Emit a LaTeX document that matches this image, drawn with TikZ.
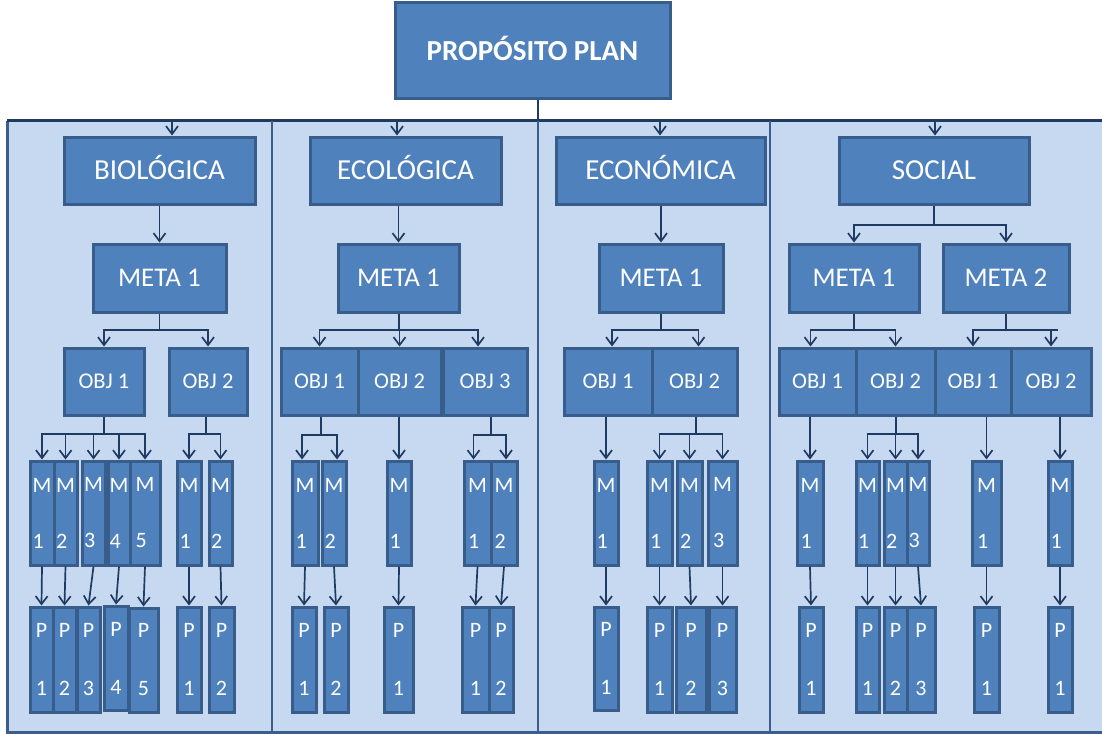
\documentclass[tikz,border=0pt]{standalone}
\usepackage{fontspec}
\setmainfont{Carlito}
\usetikzlibrary{arrows.meta}
\definecolor{boxfill}{HTML}{4F81BD}
\definecolor{boxline}{HTML}{385D8A}
\definecolor{panelfill}{HTML}{C6D9F0}
\definecolor{panelline}{HTML}{3C5E8C}
\definecolor{connc}{HTML}{1F3B61}
\tikzset{
  bx/.style={draw=boxline, fill=boxfill, line width=3pt, text=white, inner sep=0pt, rectangle},
  titlebox/.style={bx, font=\bfseries\fontsize{29}{34}\selectfont, text height=18.7pt, text depth=0pt},
  catbox/.style={bx, font=\fontsize{29}{34}\selectfont, text height=18.7pt, text depth=0pt},
  metabox/.style={bx, font=\fontsize{27}{32}\selectfont, text height=17.4pt, text depth=0pt},
  objbox/.style={bx, font=\fontsize{22.5}{27}\selectfont, text height=14.5pt, text depth=0pt},
  mbox/.style={bx, font=\fontsize{22}{56}\selectfont, align=left},
  pbox/.style={bx, font=\fontsize{22}{58}\selectfont, align=center},
  conn/.style={draw=connc, line width=1.7pt},
  arr/.style={conn, -{Straight Barb[length=8pt,width=12pt]}},
}
\newcommand\B[7]{\node[#1, minimum width={#5-#3}, minimum height={#6-#4}] (#2) at ({(#3+#5)/2},{(#4+#6)/2}) {#7};}
% #1 parent, #2 x of trunk, #3 y of bar, #4 list child/xshift
\newcommand\fan[4]{%
  \coordinate (fj) at (#2,#3);
  \draw[conn] (fj |- #1.south) -- (fj);
  \foreach \c/\d in {#4} {\draw[arr] (fj) -| ([xshift=\d pt]\c.north);}}
\begin{document}
\begin{tikzpicture}[x=1pt,y=-1pt]
\useasboundingbox (0,0) rectangle (1102,733);
% panel
\fill[panelfill] (7,121) rectangle (1106,732);
\draw[panelline, line width=3pt] (1106,732) -- (7,732) -- (7,121);
\draw[connc, line width=3pt] (7,121) -- (1106,121);
\draw[panelline, line width=2.6pt] (272,121) -- (272,732);
\draw[panelline, line width=2.6pt] (538,121) -- (538,732);
\draw[panelline, line width=2.6pt] (770,121) -- (770,732);
% title and categories
\B{titlebox}{pp}{395}{3}{670}{99}{PROPÓSITO PLAN}
\B{catbox}{bio}{64}{137}{255}{204}{BIOLÓGICA}
\B{catbox}{eco}{310}{137}{501}{204}{ECOLÓGICA}
\B{catbox}{ecn}{556}{137}{765}{204}{ECONÓMICA}
\B{catbox}{soc}{839}{137}{1029}{204}{SOCIAL}
% metas
\B{metabox}{m1}{93}{244}{226}{312}{META 1}
\B{metabox}{m2}{338}{244}{459}{312}{META 1}
\B{metabox}{m3}{599}{244}{723}{312}{META 1}
\B{metabox}{m4a}{789}{244}{919}{312}{META 1}
\B{metabox}{m4b}{943}{244}{1069}{312}{META 2}
% objectives
\B{objbox}{o1a}{64}{348}{144}{415}{OBJ 1}
\B{objbox}{o1b}{169}{348}{247}{415}{OBJ 2}
\B{objbox}{o2a}{281}{348}{358}{415}{OBJ 1}
\B{objbox}{o2b}{358}{348}{441}{415}{OBJ 2}
\B{objbox}{o2c}{443}{348}{527}{415}{OBJ 3}
\B{objbox}{o3a}{564}{348}{652}{415}{OBJ 1}
\B{objbox}{o3b}{652}{348}{737}{415}{OBJ 2}
\B{objbox}{o4a}{779}{348}{856}{415}{OBJ 1}
\B{objbox}{o4b}{856}{348}{935}{415}{OBJ 2}
\B{objbox}{o4c}{935}{348}{1011}{415}{OBJ 1}
\B{objbox}{o4d}{1011}{348}{1091}{415}{OBJ 2}
% M boxes
\B{mbox}{ma1}{30}{461}{54}{565}{M\\1}
\B{mbox}{ma2}{54}{461}{77}{565}{M\\2}
\B{mbox}{ma3}{82}{461}{105}{565}{M\\3}
\B{mbox}{ma4}{108}{461}{130}{565}{M\\4}
\B{mbox}{ma5}{130}{461}{160}{565}{M\\5}
\B{mbox}{mb1}{177}{461}{201}{565}{M\\1}
\B{mbox}{mb2}{209}{461}{232}{565}{M\\2}
\B{mbox}{mc1}{292}{461}{318}{565}{M\\1}
\B{mbox}{mc2}{322}{461}{346}{565}{M\\2}
\B{mbox}{md1}{387}{461}{411}{565}{M\\1}
\B{mbox}{me1}{464}{461}{491}{565}{M\\1}
\B{mbox}{me2}{491}{461}{517}{565}{M\\2}
\B{mbox}{mf1}{594}{461}{618}{565}{M\\1}
\B{mbox}{mg1}{647}{461}{672}{565}{M\\1}
\B{mbox}{mg2}{677}{461}{702}{565}{M\\2}
\B{mbox}{mg3}{708}{461}{737}{565}{M\\3}
\B{mbox}{mh1}{797}{461}{823}{565}{M\\1}
\B{mbox}{mi1}{856}{461}{879}{565}{M\\1}
\B{mbox}{mi2}{884}{461}{907}{565}{M\\2}
\B{mbox}{mi3}{907}{461}{929}{565}{M\\3}
\B{mbox}{mj1}{972}{461}{1001}{565}{M\\1}
\B{mbox}{mk1}{1048}{461}{1072}{565}{M\\1}
% P boxes
\B{pbox}{pa1}{30}{607}{53}{712}{P\\1}
\B{pbox}{pa2}{53}{607}{76}{712}{P\\2}
\B{pbox}{pa3}{77}{607}{100}{712}{P\\3}
\B{pbox}{pa4}{104}{606}{128}{710}{P\\4}
\B{pbox}{pa5}{129}{608}{158}{712}{P\\5}
\B{pbox}{pb1}{177}{607}{201}{712}{P\\1}
\B{pbox}{pb2}{209}{607}{234}{712}{P\\2}
\B{pbox}{pc1}{292}{607}{316}{712}{P\\1}
\B{pbox}{pc2}{324}{607}{348}{712}{P\\2}
\B{pbox}{pd1}{384}{607}{413}{712}{P\\1}
\B{pbox}{pe1}{462}{607}{489}{712}{P\\1}
\B{pbox}{pe2}{489}{607}{513}{712}{P\\2}
\B{pbox}{pf1}{594}{607}{618}{710}{P\\1}
\B{pbox}{pg1}{647}{607}{672}{712}{P\\1}
\B{pbox}{pg2}{676}{607}{706}{712}{P\\2}
\B{pbox}{pg3}{709}{607}{736}{712}{P\\3}
\B{pbox}{ph1}{799}{607}{823}{712}{P\\1}
\B{pbox}{pi1}{856}{607}{879}{712}{P\\1}
\B{pbox}{pi2}{884}{607}{907}{712}{P\\2}
\B{pbox}{pi3}{907}{607}{935}{712}{P\\3}
\B{pbox}{pj1}{974}{607}{999}{712}{P\\1}
\B{pbox}{pk1}{1048}{607}{1072}{712}{P\\1}
% title to panel
\coordinate (tj) at (538,121);
\draw[conn] (tj |- pp.south) -- (tj);
\coordinate (t1) at (172,121);
\coordinate (t2) at (397,121);
\coordinate (t3) at (660,121);
\coordinate (t4) at (935,121);
\draw[arr] (t1) -- (t1 |- bio.north);
\draw[arr] (t2) -- (t2 |- eco.north);
\draw[arr] (t3) -- (t3 |- ecn.north);
\draw[arr] (t4) -- (t4 |- soc.north);
% categories to metas
\draw[arr] (m1.north |- bio.south) -- (m1.north);
\draw[arr] (m2.north |- eco.south) -- (m2.north);
\draw[arr] (m3.north |- ecn.south) -- (m3.north);
\fan{soc}{934}{225}{m4a/0, m4b/0}
% metas to objectives
\fan{m1}{159.5}{330}{o1a/0, o1b/0}
\fan{m2}{399}{330}{o2a/0, o2b/0, o2c/-7}
\fan{m3}{661}{330}{o3a/4, o3b/4}
\fan{m4a}{854}{330}{o4a/-7, o4b/0}
\fan{m4b}{1006}{330}{o4c/0, o4d/0}
\coordinate (stub) at (1058,330);
\draw[conn] (m4b.south |- stub) -- (stub);
% objectives to M
\fan{o1a}{104}{434}{ma1/0, ma2/0, ma3/0, ma4/0, ma5/0}
\fan{o1b}{206}{434}{mb1/0, mb2/0}
\fan{o2a}{321}{435}{mc1/-3, mc2/3}
\draw[arr] (md1.north |- o2b.south) -- (md1.north);
\fan{o2c}{491}{435}{me1/-4, me2/2}
\draw[arr] (mf1.north |- o3a.south) -- (mf1.north);
\fan{o3b}{696}{434}{mg1/0, mg2/0, mg3/0}
\draw[arr] (mh1.north |- o4a.south) -- (mh1.north);
\fan{o4b}{896}{434}{mi1/0, mi2/0, mi3/0}
\draw[arr] (mj1.north |- o4c.south) -- (mj1.north);
\draw[arr] (mk1.north |- o4d.south) -- (mk1.north);
% M to P
\foreach \a/\b in {ma1/pa1, ma2/pa2, ma3/pa3, ma4/pa4, ma5/pa5, mb1/pb1, mb2/pb2,
  mc1/pc1, mc2/pc2, md1/pd1, me1/pe1, me2/pe2, mf1/pf1, mg1/pg1, mg2/pg2, mg3/pg3,
  mh1/ph1, mi1/pi1, mi2/pi2, mi3/pi3, mj1/pj1, mk1/pk1}
  {\draw[arr] (\a.south) -- (\b.north);}
\end{tikzpicture}
\end{document}
